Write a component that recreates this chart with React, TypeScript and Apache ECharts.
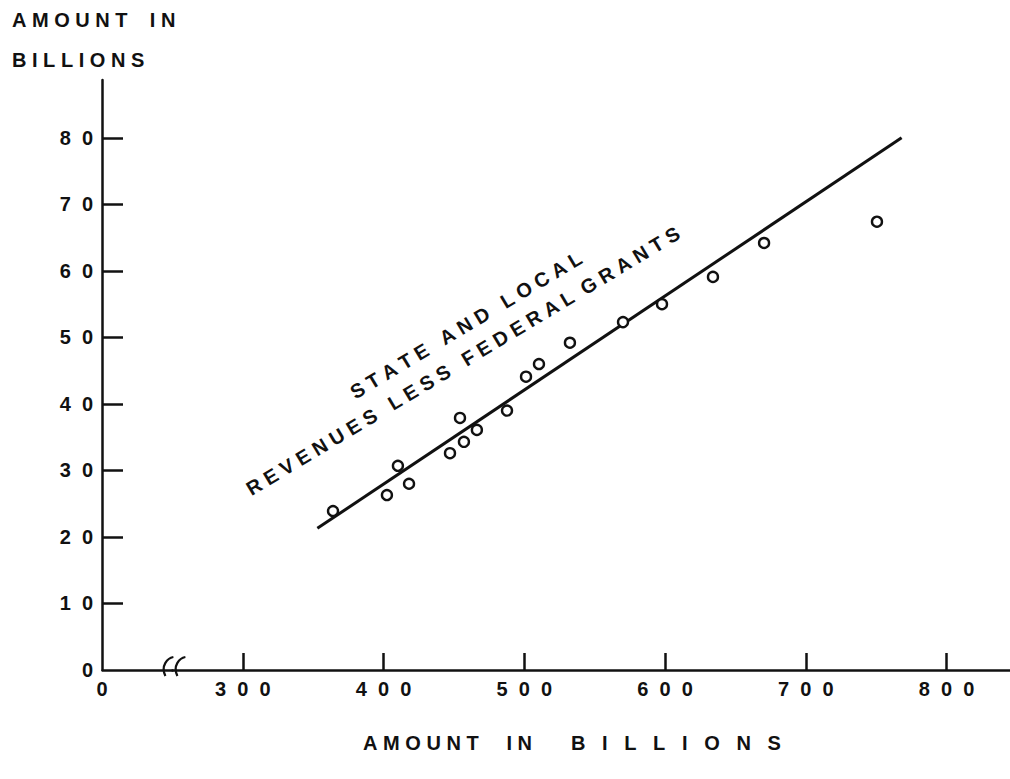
import { useEffect, useRef } from "react";
import * as echarts from "echarts";

// Axis tick values
const xTickValues = [0, 300, 400, 500, 600, 700, 800];
const yTickValues = [0, 10, 20, 30, 40, 50, 60, 70, 80];

// Broken stretch of the horizontal axis (between 0 and 300)
const xBreakStart = 50;
const xBreakEnd = 250;

// Observations: total amount (x) vs state and local revenues less federal grants (y), billions
const totalAmount = [364.1, 402.4, 410.2, 418.1, 447.2, 454.3, 457.1, 466.3, 487.7, 501.2, 510.4, 532.4, 570.1, 597.8, 634.0, 670.3, 750.5];
const stateLocalRevenue = [23.9, 26.3, 30.7, 28.0, 32.6, 37.9, 34.3, 36.1, 39.0, 44.1, 46.0, 49.2, 52.3, 55.0, 59.1, 64.2, 67.4];

// Fitted trend line end points
const trendX = [353, 768];
const trendY = [21.3, 80];

const INK = "#111";
const FONT = "Liberation Sans";
const FONT_SIZE = 20;
const NB = "\u00A0";

// Space out characters the way stencil lettering is spaced
const spaced = (word: string, gap = 1) => word.split("").join(NB.repeat(gap));

export default function App() {
  const ref = useRef<HTMLDivElement>(null);

  useEffect(() => {
    const chart = echarts.init(ref.current!, null, { renderer: "svg" });
    const labelFont = { fontFamily: FONT, fontWeight: "bold", fontSize: FONT_SIZE, color: INK };

    chart.setOption({
      animation: false,
      backgroundColor: "#fff",
      grid: { left: 102, right: 0, top: 80, bottom: 109 },
      xAxis: {
        type: "value",
        min: 0,
        max: 845,
        breaks: [{ start: xBreakStart, end: xBreakEnd, gap: 0 }],
        breakArea: { show: false },
        axisLine: { show: true, onZero: false, lineStyle: { color: INK, width: 2.5 } },
        axisTick: {
          show: true,
          inside: true,
          length: 17,
          customValues: xTickValues.filter((v) => v > 0),
          lineStyle: { color: INK, width: 2.5 },
        },
        axisLabel: {
          customValues: xTickValues,
          formatter: (v: number) => spaced(String(v), 2),
          margin: 9,
          ...labelFont,
        },
        splitLine: { show: false },
      },
      yAxis: {
        type: "value",
        min: 0,
        max: 88.7,
        axisLine: { show: true, onZero: false, lineStyle: { color: INK, width: 2.5 } },
        axisTick: {
          show: true,
          inside: true,
          length: 21,
          customValues: yTickValues.filter((v) => v > 0),
          lineStyle: { color: INK, width: 2.5 },
        },
        axisLabel: {
          customValues: yTickValues,
          formatter: (v: number) => spaced(String(v), 2),
          margin: 9,
          ...labelFont,
        },
        splitLine: { show: false },
      },
      series: [
        {
          type: "line",
          data: trendX.map((x, i) => [x, trendY[i]]),
          showSymbol: false,
          lineStyle: { color: INK, width: 3 },
          z: 2,
        },
        {
          type: "scatter",
          data: totalAmount.map((x, i) => [x, stateLocalRevenue[i]]),
          symbol: "circle",
          symbolSize: 10,
          itemStyle: { color: "#fff", borderColor: INK, borderWidth: 2.4, opacity: 1 },
          z: 3,
        },
      ],
    });

    // Break marks on the horizontal axis, placed through the axis scales
    const bx = chart.convertToPixel({ xAxisIndex: 0 }, xBreakStart) as number;
    const by = chart.convertToPixel({ yAxisIndex: 0 }, 0) as number;
    const breakMark = (x0: number, id: string) => ({
      type: "bezierCurve",
      id,
      shape: {
        x1: x0 + 1, y1: by + 6,
        cpx1: x0 - 4, cpy1: by - 4,
        cpx2: x0 + 3, cpy2: by - 12,
        x2: x0 + 9, y2: by - 13,
      },
      style: { stroke: INK, lineWidth: 2.2, fill: null },
      z: 10,
    });

    const textStyle = (text: string, align: string) => ({
      text,
      fill: INK,
      fontFamily: FONT,
      fontWeight: "bold",
      fontSize: FONT_SIZE,
      align,
      verticalAlign: "middle",
    });
    const angle = (31 * Math.PI) / 180;

    chart.setOption({
      graphic: {
        elements: [
          breakMark(bx - 8, "brk1"),
          breakMark(bx + 4, "brk2"),
          {
            type: "text",
            id: "yname1",
            x: 12,
            y: 20,
            style: textStyle(spaced("AMOUNT") + NB.repeat(4) + spaced("IN"), "left"),
          },
          { type: "text", id: "yname2", x: 12, y: 60, style: textStyle(spaced("BILLIONS"), "left") },
          {
            type: "text",
            id: "xname",
            x: 572,
            y: 743,
            style: textStyle(
              spaced("AMOUNT") + NB.repeat(5) + spaced("IN") + NB.repeat(7) + spaced("BILLIONS", 3),
              "center"
            ),
          },
          {
            type: "text",
            id: "curve1",
            x: 466,
            y: 325,
            rotation: angle,
            style: textStyle(
              spaced("STATE") + NB.repeat(3) + spaced("AND") + NB.repeat(3) + spaced("LOCAL"),
              "center"
            ),
          },
          {
            type: "text",
            id: "curve2",
            x: 463,
            y: 361,
            rotation: angle,
            style: textStyle(
              spaced("REVENUES") + NB.repeat(3) + spaced("LESS") + NB.repeat(3) + spaced("FEDERAL") + NB.repeat(2) + spaced("GRANTS"),
              "center"
            ),
          },
        ],
      },
    });

    return () => chart.dispose();
  }, []);

  return <div ref={ref} style={{ position: "fixed", left: 0, top: 0, width: 1010, height: 779 }} />;
}
